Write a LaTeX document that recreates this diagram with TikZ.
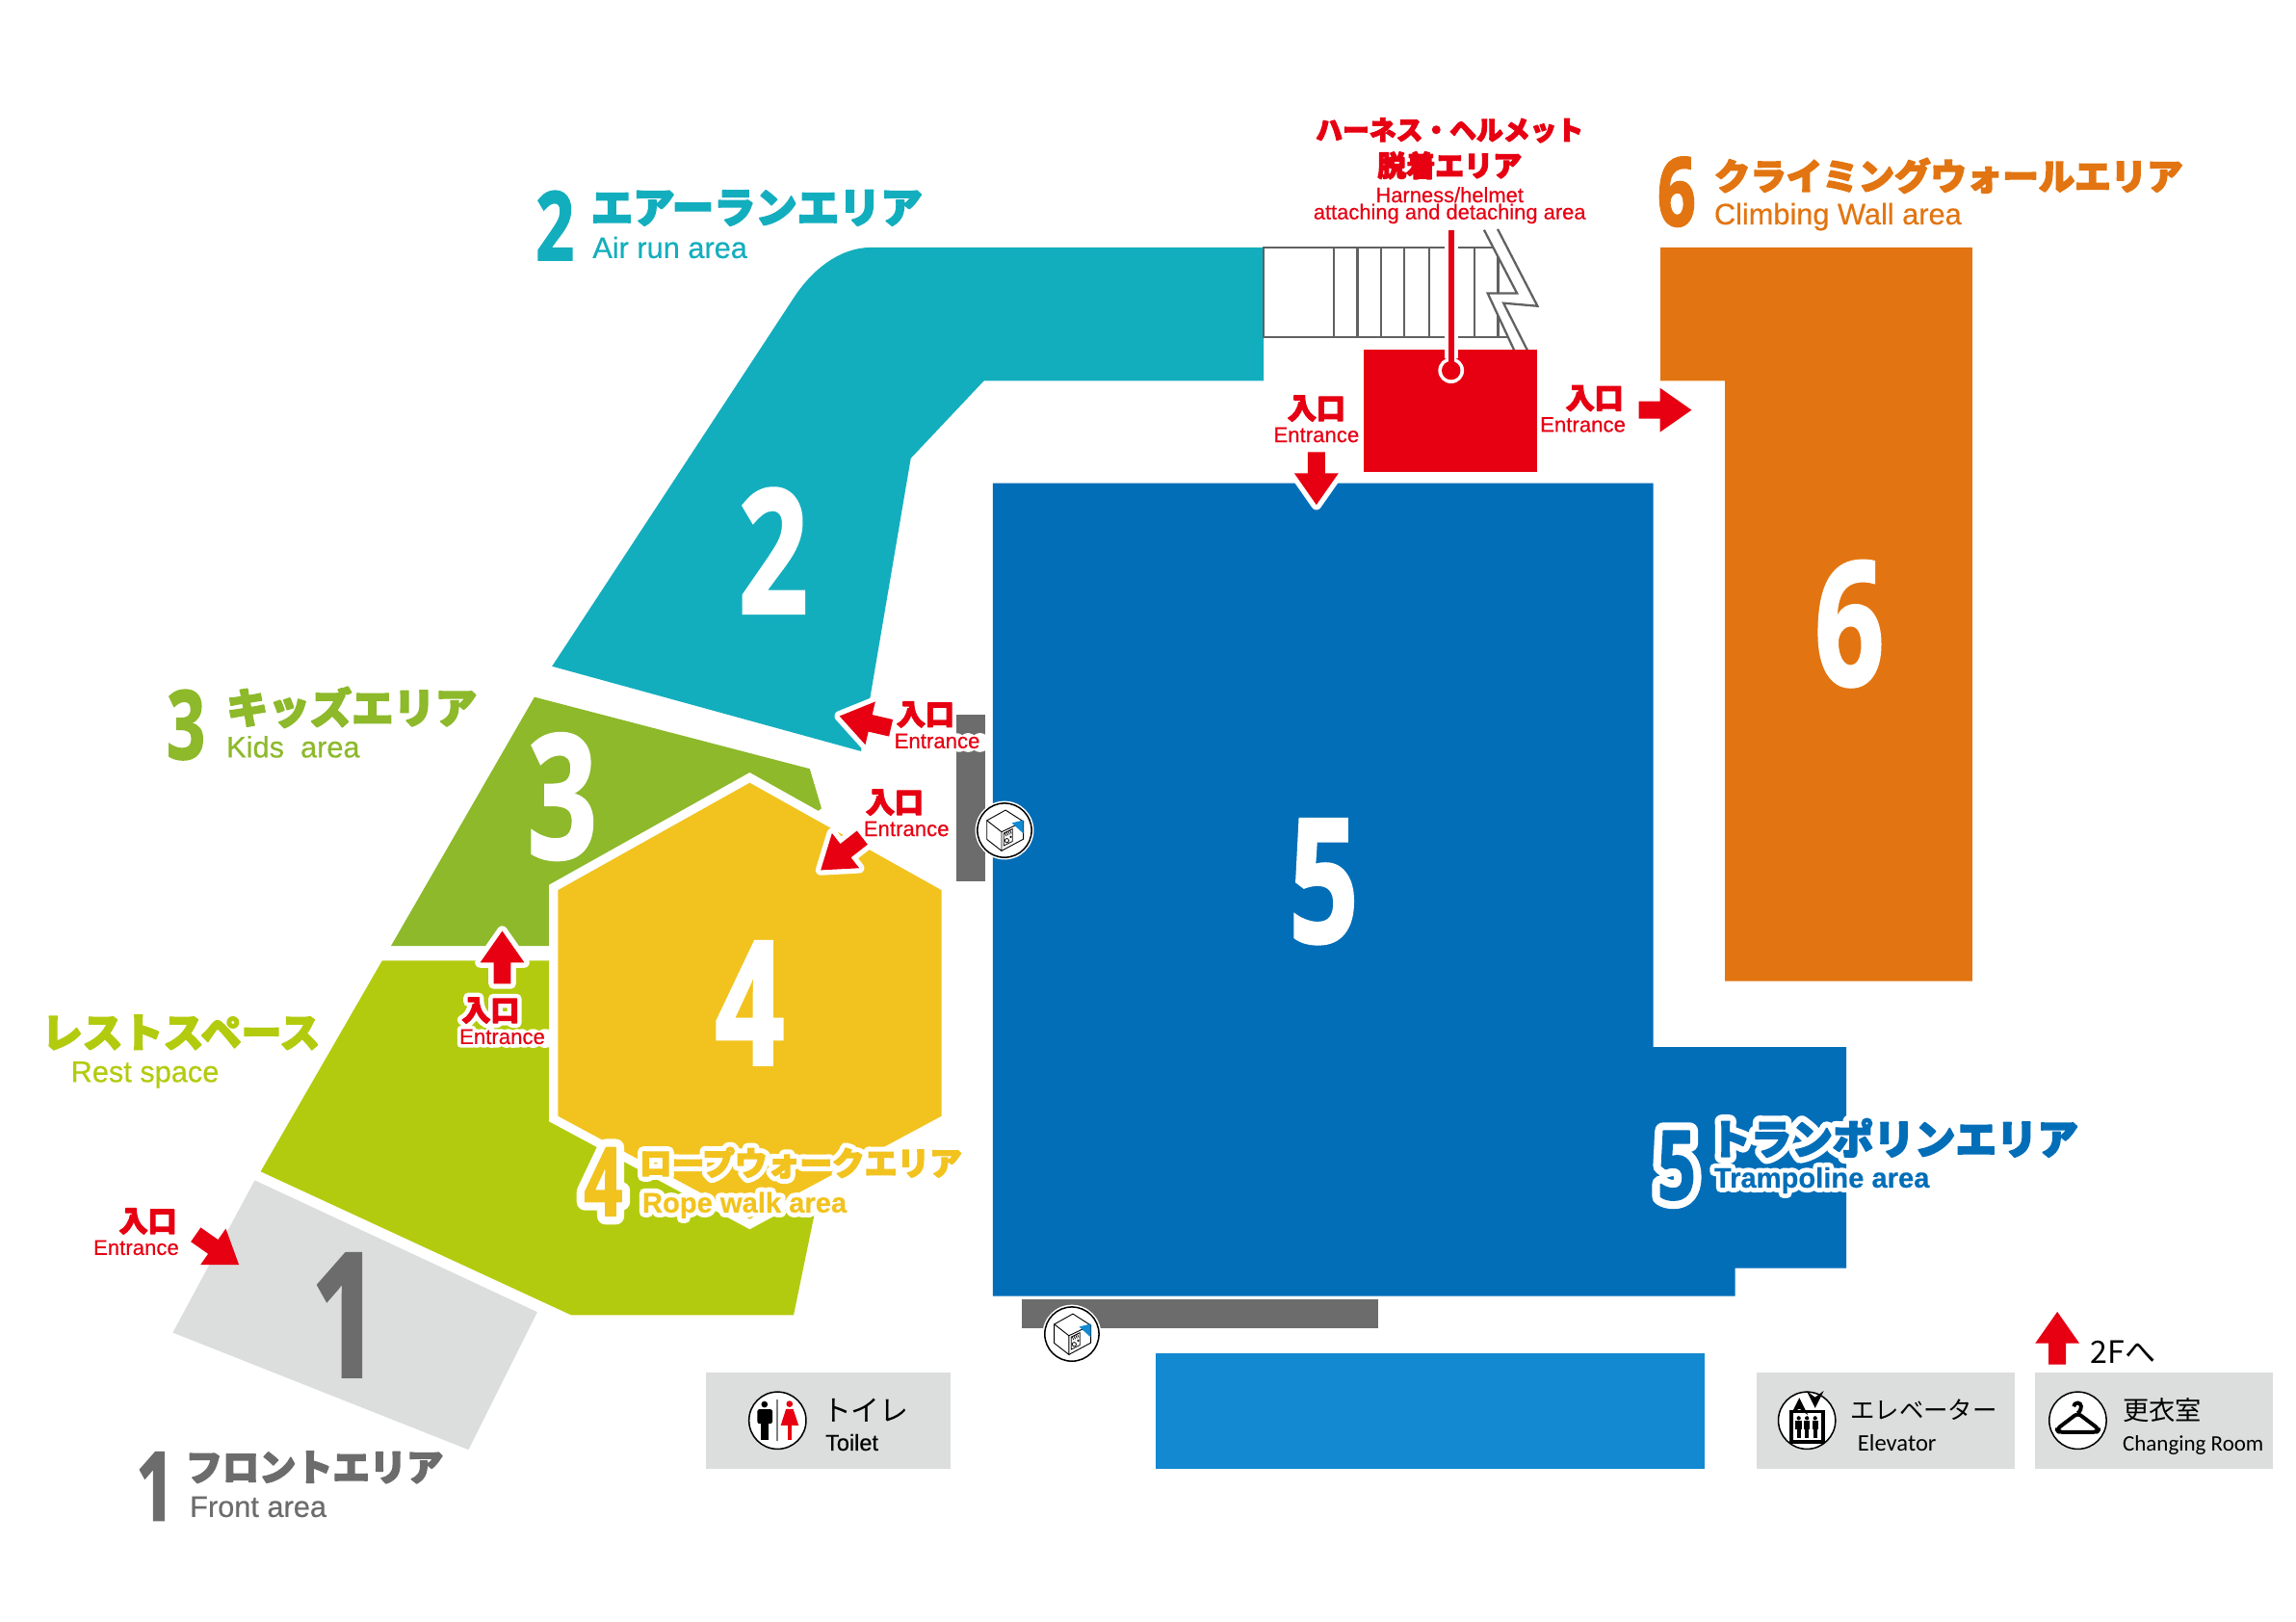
\documentclass[tikz,border=0pt]{standalone}
\usepackage{fontspec}
\usetikzlibrary{shapes.arrows}
\setmainfont{Liberation Sans}[FakeBold=0.4]
\newfontfamily\jpheavy{Noto Sans CJK JP}[BoldFeatures={FakeBold=4}]
\newfontfamily\jphalo{Noto Sans CJK JP}[BoldFeatures={FakeBold=34}]
\newfontfamily\jpthin{Noto Sans CJK JP}
\newfontfamily\lathalo{Liberation Sans}[BoldFeatures={FakeBold=34}]
\newfontfamily\numfont{Open Sans}[FakeStretch=0.7,BoldFeatures={FakeBold=1.5}]
\newfontfamily\numhalo{Open Sans}[FakeStretch=0.7,BoldFeatures={FakeBold=18}]
\newfontfamily\signfont{Carlito}
\newcommand{\jpt}[1]{\pgfsetroundjoin\jpheavy\bfseries\fontsize{#1}{#1}\selectfont}
\newcommand{\numt}[1]{\numfont\bfseries\fontsize{#1}{#1}\selectfont}
\newcommand{\latt}[1]{\fontsize{#1}{#1}\selectfont}
\newcommand{\withhalo}[2]{\rlap{\pgfsetroundjoin\color{white}#1\bfseries #2}#2}
\definecolor{tealarea}{HTML}{13AEBE}
\definecolor{kidsarea}{HTML}{8DB92B}
\definecolor{restarea}{HTML}{B3CB0E}
\definecolor{frontarea}{HTML}{DCDDDD}
\definecolor{ropearea}{HTML}{F2C31F}
\definecolor{trampoarea}{HTML}{036EB8}
\definecolor{climbarea}{HTML}{E27511}
\definecolor{entryred}{HTML}{E60012}
\definecolor{bargray}{HTML}{6D6C6C}
\definecolor{lowerblue}{HTML}{1289D0}
\tikzset{
	bignum/.style={inner sep=0pt, font=\numt{33.6}},
	titlenum/.style={inner sep=0pt, font=\numt{18.6}},
	entryarrow/.style={single arrow, fill=entryred, inner sep=0.52mm, minimum height=3.6mm, minimum width=2.9mm, single arrow head extend=0.92mm, single arrow tip angle=70},
	haloarrow/.style={entryarrow, preaction={draw=white, line width=0.7mm, line join=round}},
	entryjp/.style={inner sep=0pt, text=entryred, font=\jpt{5.6}},
	entryen/.style={inner sep=0pt, text=entryred, font=\latt{4.15}},
	pics/safeicon/.style={code={
		\fill[white] (0,0) circle (20);
		\draw[line width=0.1mm] (0,0) circle (18.5);
		\draw[line width=0.06mm] (-12,-6.7) -- (0.7,-13.8) -- (12.9,-6) -- (-2,1.1) -- cycle;
		\draw[line width=0.06mm] (-12,-6.7) -- (-12,6.2) -- (-2,14) -- (-2,1.1);
		\draw[line width=0.06mm] (-2,14) -- (12.9,6) -- (12.9,-6);
		\fill[lowerblue] (5,-5) -- (12.9,-7) -- (12.9,2.2) -- cycle;
		\draw[line width=0.05mm, fill=white] (-0.5,2) -- (5.5,-1) -- (5.5,7.5) -- (-0.5,10.5) -- cycle;
		\draw[line width=0.25mm, dash pattern=on 0.05mm off 0.08mm] (0.5,3) -- (4.5,1);
		\draw[line width=0.05mm] (1.6,7) circle (1.4);
		\fill (4.3,4.5) circle (0.8);
	}},
	pics/toileticon/.style={code={
		\draw[line width=0.1mm, fill=white] (0,0) circle (19.5);
		\draw[gray, line width=0.12mm] (0,-14.4) -- (0,13.8);
		\fill (-8.9,-11) circle (2.2);
		\fill[rounded corners=0.15mm] (-13.8,-7.7) rectangle (-3.5,2.2);
		\fill (-11.1,0) rectangle (-6.4,13);
		\fill[entryred] (8.2,-11.3) circle (2.2);
		\fill[entryred] (5.8,-7.8) -- (10.7,-7.8) -- (14.4,3.3) -- (2.2,3.3) -- cycle;
		\fill[entryred] (6.9,3.3) rectangle (9.5,13);
	}},
	pics/lifticon/.style={code={
		\draw[line width=0.1mm, fill=white] (0,0) circle (19.5);
		\draw[line width=0.25mm] (-10.5,-6.1) rectangle (11,14.5);
		\draw[line width=0.16mm, -stealth] (-5.2,-8.5) -- (-5.2,-15.5);
		\draw[line width=0.16mm, -stealth] (5.6,-15.5) -- (5.6,-8.5);
		\foreach \px in {-5.6,0,5.6}{
			\fill (\px,-1.6) circle (1.4);
			\fill (\px-2.1,0) rectangle (\px+2.1,6);
			\fill (\px-1.4,6) rectangle (\px+1.4,12);
		}
	}},
	pics/hangericon/.style={code={
		\draw[line width=0.1mm, fill=white] (0,0) circle (19.5);
		\draw[line width=0.26mm, rounded corners=0.25mm, line join=round] (0,-5) -- (-14.5,6) -- (-13,8) -- (13,8) -- (14.5,6) -- cycle;
		\draw[line width=0.26mm] (0,-5) .. controls (3.5,-8) and (2.5,-12) .. (0,-12) .. controls (-1.5,-12) and (-2.8,-11) .. (-2.8,-9.5);
	}},
}

\begin{document}
\begin{tikzpicture}[x=0.01cm, y=-0.01cm]
	\useasboundingbox[fill=white] (0,0) rectangle (1568,1107.6);

	% areas
	\fill[tealarea] (377,455) -- (541,205) .. controls (553,186) and (572,169) .. (595,169) -- (863,169) -- (863,260) -- (672,260) -- (622,313) -- (588,513) -- cycle;
	\fill[kidsarea] (365,476) -- (553,525) -- (561,552) -- (500,600) -- (378,646) -- (267,646) -- cycle;
	\fill[restarea] (261,656) -- (378,656) -- (510,790) -- (556,830) -- (542,898) -- (390,898) -- (178,800) -- cycle;
	\fill[frontarea] (174,806) -- (367,896) -- (320,990) -- (118,910) -- cycle;
	\draw[white, line width=0.6mm, line join=miter, fill=ropearea] (512,531) -- (646,606) -- (646,764) -- (512,836) -- (378,764) -- (378,606) -- cycle;
	\fill[trampoarea] (678,330) -- (1129,330) -- (1129,715) -- (1261,715) -- (1261,866) -- (1185,866) -- (1185,885) -- (678,885) -- cycle;
	\fill[climbarea] (1134,169) -- (1347,169) -- (1347,670) -- (1178,670) -- (1178,260) -- (1134,260) -- cycle;
	\fill[lowerblue] (789,924) rectangle (1164,1003);
	\fill[bargray] (653,488) rectangle (673,602);
	\fill[bargray] (698,887) rectangle (941,907);

	% stairs
	\draw[bargray!90!black, line width=0.15mm] (1024,169) -- (863,169) -- (863,230) -- (1032,230);
	\foreach \sx in {911,927,943,959,976,991,1007,1023}{
		\draw[bargray!90!black, line width=0.15mm] (\sx,169) -- (\sx,230);
	}
	\fill[white] (1013.5,157) -- (1036,200.3) -- (1016,200.3) -- (1034,239) -- (1043,239) -- (1026.8,207) -- (1050,209) -- (1022.8,156.5) -- cycle;
	\draw[bargray!90!black, line width=0.15mm] (1013.5,157) -- (1036,200.3) -- (1016,200.3) -- (1034,239);
	\draw[bargray!90!black, line width=0.15mm] (1043,239) -- (1026.8,207) -- (1050,209) -- (1022.8,156.5);

	% harness box
	\fill[entryred] (931,239) rectangle (1050,322);
	\draw[white, line width=0.95mm] (991,160) -- (991,245);
	\fill[white] (991,253) circle (8.8);
	\fill[entryred] (991,253) circle (6.4);
	\draw[entryred, line width=0.37mm] (991,157) -- (991,250);

	% numbers on the areas
	\node[bignum, text=white] (num2) at (528,376) {2};
	\node[bignum, text=white] (num3) at (384,544) {3};
	\node[bignum, text=white] (num4) at (512,685) {4};
	\node[bignum, text=white] (num5) at (904,602) {5};
	\node[bignum, text=white] (num6) at (1263,426) {6};
	\node[bignum, text=bargray] (num1) at (236,898) {1};

	% area titles
	\node[titlenum, text=tealarea] (title2) at (379,154) {2};
	\node[inner sep=0pt, anchor=west, text=tealarea, font=\jpt{8.1}] (title2jp) at (403,142) {エアーランエリア};
	\node[inner sep=0pt, anchor=west, text=tealarea, font=\latt{5.75}] (title2en) at (404,169) {Air run area};

	\node[titlenum, text=climbarea] (title6) at (1145,131) {6};
	\node[inner sep=0pt, anchor=west, text=climbarea, font=\jpt{7}] (title6jp) at (1170,120) {クライミングウォールエリア};
	\node[inner sep=0pt, anchor=west, text=climbarea, font=\latt{5.75}] (title6en) at (1170,148) {Climbing Wall area};

	\node[titlenum, text=kidsarea] (title3) at (127,495) {3};
	\node[inner sep=0pt, anchor=west, text=kidsarea, font=\jpt{8.1}] (title3jp) at (154,483) {キッズエリア};
	\node[inner sep=0pt, anchor=west, text=kidsarea, font=\latt{5.75}] (title3en) at (154,510) {Kids~~area};

	\node[inner sep=0pt, anchor=west, text=restarea, font=\jpt{7.85}] (restjp) at (28,705) {レストスペース};
	\node[inner sep=0pt, text=restarea, font=\latt{5.75}] (resten) at (99,734) {Rest space};

	\node[titlenum, text=ropearea] (title4) at (412,807) {\withhalo{\numhalo}{4}};
	\node[inner sep=0pt, anchor=west, text=ropearea, font=\jpt{6.3}] (title4jp) at (436,794) {\withhalo{\jphalo}{ロープウォークエリア}};
	\node[inner sep=0pt, anchor=west, text=ropearea, font=\bfseries\latt{5.45}] (title4en) at (438,823) {\withhalo{\lathalo}{Rope walk area}};

	\node[titlenum, text=trampoarea] (title5) at (1145,796) {\withhalo{\numhalo}{5}};
	\node[inner sep=0pt, anchor=west, text=trampoarea, font=\jpt{7.95}] (title5jp) at (1167,777) {\withhalo{\jphalo}{トランポリンエリア}};
	\node[inner sep=0pt, anchor=west, text=trampoarea, font=\bfseries\latt{5.45}] (title5en) at (1170,806) {\withhalo{\lathalo}{Trampoline area}};

	\node[titlenum, text=bargray] (title1) at (106,1015) {1};
	\node[inner sep=0pt, anchor=west, text=bargray, font=\jpt{7.15}] (title1jp) at (126,1002) {フロントエリア};
	\node[inner sep=0pt, anchor=west, text=bargray, font=\latt{5.75}] (title1en) at (129,1029) {Front area};

	% harness titles
	\node[inner sep=0pt, text=entryred, font=\jpt{5.2}] (harnessjp) at (990,89) {ハーネス・ヘルメット};
	\node[inner sep=0pt, text=entryred, font=\jpt{5.6}] (harnessjpb) at (990,113) {脱着エリア};
	\node[inner sep=0pt, text=entryred, font=\latt{4.1}] (harnessen) at (990,133) {Harness/helmet};
	\node[inner sep=0pt, text=entryred, font=\latt{4.1}] (harnessenb) at (990,146) {attaching and detaching area};

	% entrances
	\node[entryjp] (doorajp) at (899,279) {入口};
	\node[entryen] (dooraen) at (899,297) {Entrance};
	\node[haloarrow, rotate=-90] (doora) at (899,322.5) {};

	\node[entryjp] (doorbjp) at (1089,272) {入口};
	\node[entryen] (doorben) at (1081,290) {Entrance};
	\node[entryarrow] (doorb) at (1133,280) {};

	\node[haloarrow, rotate=167] (doorc) at (595,494) {};
	\node[entryjp] (doorcjp) at (632,488) {入口};
	\node[entryen] (doorcen) at (640,506) {\withhalo{\lathalo}{Entrance}};

	\node[haloarrow, rotate=218] (doord) at (578,580.5) {};
	\node[entryjp] (doordjp) at (611,548) {入口};
	\node[entryen] (doorden) at (619,566) {Entrance};

	\node[haloarrow, rotate=90] (doore) at (343,658) {};
	\node[entryjp] (doorejp) at (335,690) {\withhalo{\jphalo}{入口}};
	\node[entryen] (dooreen) at (343,708) {\withhalo{\lathalo}{Entrance}};

	\node[entryjp] (doorfjp) at (101,834) {入口};
	\node[entryen] (doorfen) at (93,852) {Entrance};
	\node[entryarrow, rotate=-35] (doorf) at (145,851) {};

	% lockers
	\pic at (686,567) {safeicon};
	\pic at (732,911) {safeicon};

	% signs
	\fill[frontarea] (482,937) rectangle (649,1003);
	\pic at (531,970) {toileticon};
	\node[inner sep=0pt, anchor=west, font=\jpthin\fontsize{5.6}{5.6}\selectfont] (toiletjp) at (561,963) {トイレ};
	\node[inner sep=0pt, anchor=west, font=\latt{4.4}] (toileten) at (563,985) {Toilet};

	\fill[frontarea] (1200,937) rectangle (1376,1003);
	\pic at (1234,970) {lifticon};
	\node[inner sep=0pt, anchor=west, font=\jpthin\fontsize{4.75}{4.75}\selectfont] (liftjp) at (1263,963) {エレベーター};
	\node[inner sep=0pt, anchor=west, font=\signfont\latt{4.6}] (liften) at (1268,985) {Elevator};

	\fill[frontarea] (1390,937) rectangle (1552,1003);
	\pic at (1419,970) {hangericon};
	\node[inner sep=0pt, anchor=west, font=\jpthin\fontsize{5.1}{5.1}\selectfont] (roomjp) at (1449,963) {更衣室};
	\node[inner sep=0pt, anchor=west, font=\signfont\latt{4.3}] (roomen) at (1449,987) {Changing Room};

	\node[entryarrow, rotate=90] (upstairs) at (1405,918) {};
	\node[inner sep=0pt, anchor=west, font=\jpthin\fontsize{6}{6}\selectfont] (upstairslabel) at (1427,923) {2Fへ};
\end{tikzpicture}
\end{document}
